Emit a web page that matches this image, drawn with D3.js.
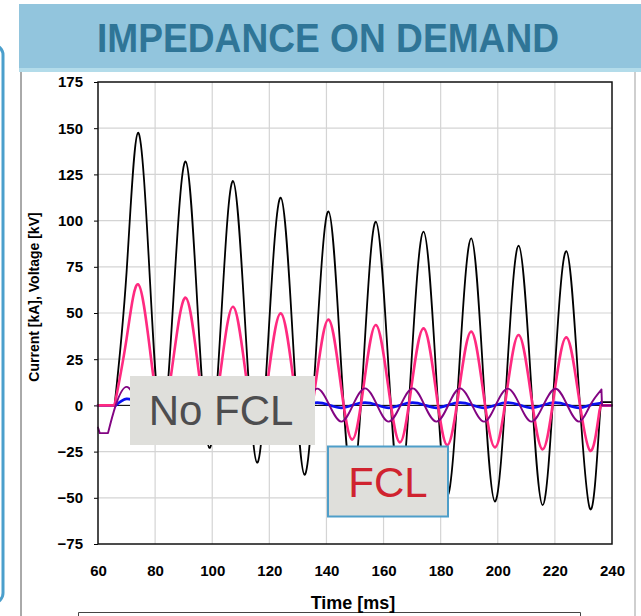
<!DOCTYPE html>
<html>
<head>
<meta charset="utf-8">
<script src="https://cdn.jsdelivr.net/npm/d3@7"></script>
<style>
body { margin: 0; background: #fff; }
svg { display: block; font-family: "Liberation Sans", Arial, sans-serif; }
</style>
</head>
<body>
<div id="chart"></div>
<script>
// axis ticks
const xTicks = [60, 80, 100, 120, 140, 160, 180, 200, 220, 240];
const yTicks = [-75, -50, -25, 0, 25, 50, 75, 100, 125, 150, 175];

// current samples: start, then mid / trough / mid / peak of every cycle
const tCurrent = [60, 65.8, 70, 74,
    78.2, 82.3, 86.5, 90.7,
    94.8, 99, 103.2, 107.3,
    111.5, 115.7, 119.8, 124,
    128.2, 132.3, 136.5, 140.7,
    144.8, 149, 153.2, 157.3,
    161.5, 165.7, 169.8, 174,
    178.2, 182.3, 186.5, 190.7,
    194.8, 199, 203.2, 207.3,
    211.5, 215.7, 219.8, 224,
    228.2, 232.3, 235.6, 236.1, 239.8];
const iNoFcl = [0, 0, 72, 147.5,
    67.5, -12, 60, 132,
    54.5, -23, 49, 121.4,
    45, -31, 40.5, 112.4,
    37, -37.5, 33, 105,
    31, -42, 28.5, 99.4,
    26.5, -46, 24, 94,
    22.5, -49, 20.5, 90.4,
    19, -52, 17, 86.4,
    16, -54, 14.5, 83.5,
    13.5, -56, -9, 1.8, 1.8];
const iFcl = [0, 0, 36, 65.5,
    30, -5, 26.5, 58.3,
    24, -10, 21.5, 53.4,
    19.8, -13.5, 17.8, 49.8,
    16.5, -16, 15, 46.4,
    13.8, -18.5, 12.5, 43.5,
    11.8, -20, 10.5, 41.7,
    9.8, -21.5, 9, 39.9,
    8.4, -22.7, 7.7, 38.1,
    7.1, -23.8, 6.6, 36.8,
    6.3, -24.5, -3, 0, 0];

// voltage across the limiter and the small branch current
const tVoltage = [60, 60.6, 63.5,
    66.2, 70,
    74.2, 78.5, 82.6, 86.8,
    91, 95.2, 99.3, 103.5,
    107.7, 111.8, 116, 120.2,
    124.3, 128.5, 132.7, 136.8,
    141, 145.2, 149.3, 153.5,
    157.7, 161.8, 166, 170.2,
    174.3, 178.5, 182.7, 186.8,
    191, 195.2, 199.3, 203.5,
    207.7, 211.8, 216, 220.2,
    224.3, 228.5, 232.4, 236.3,
    236.5, 239.8];
const uFcl = [-12, -15, -15,
    0, 10,
    0.3, -8.7, 0.2, 9.1,
    0.2, -8.7, 0.2, 9.1,
    0.2, -8.7, 0.2, 9.1,
    0.2, -8.7, 0.2, 9.1,
    0.2, -8.8, 0.2, 9.2,
    0.2, -8.8, 0.2, 9.2,
    0.2, -8.8, 0.2, 9.2,
    0.2, -8.8, 0.2, 9.1,
    0.2, -8.8, 0.2, 9.0,
    0.2, -8.8, 0.2, 8.6,
    0, 0];
const iBranch = [0, 0, 0,
    0, 3.5,
    1.2, -1.6, 0.3, 2.2,
    0.3, -1.4, 0.2, 1.8,
    0.2, -1.3, 0.2, 1.6,
    0.2, -1.3, 0.2, 1.5,
    0.2, -1.3, 0.2, 1.5,
    0.2, -1.3, 0.2, 1.5,
    0.2, -1.3, 0.2, 1.5,
    0.2, -1.3, 0.2, 1.5,
    0.2, -1.3, 0.2, 1.5,
    0.2, -1.3, 0.2, 1.2,
    0, 0];

const W = 641, H = 616;
const svg = d3.select("#chart").append("svg")
    .attr("width", W)
    .attr("height", H);

// slide decoration around the chart
svg.append("rect")
    .attr("x", -200).attr("y", 45)
    .attr("width", 203).attr("height", 558)
    .attr("rx", 10)
    .attr("fill", "none")
    .attr("stroke", "#4b9fcc")
    .attr("stroke-width", 3);
svg.append("line")
    .attr("x1", 21).attr("x2", 21).attr("y1", 72).attr("y2", H)
    .attr("stroke", "#555").attr("stroke-width", 1);
svg.append("line")
    .attr("x1", 635).attr("x2", 635).attr("y1", 72).attr("y2", H)
    .attr("stroke", "#cfcfcf").attr("stroke-width", 2);
svg.append("path")
    .attr("d", "M78.5," + H + "V612.5H580.5V" + H)
    .attr("fill", "none")
    .attr("stroke", "#444").attr("stroke-width", 1);

// title banner
svg.append("rect")
    .attr("x", 19).attr("y", 4)
    .attr("width", W - 19).attr("height", 64)
    .attr("fill", "#92c5dd");
svg.append("rect")
    .attr("x", 19).attr("y", 68)
    .attr("width", W - 19).attr("height", 4)
    .attr("fill", "#b3dcea");
svg.append("text")
    .attr("x", 328).attr("y", 52)
    .attr("text-anchor", "middle")
    .attr("font-size", 40)
    .attr("font-weight", "bold")
    .attr("textLength", 462)
    .attr("lengthAdjust", "spacingAndGlyphs")
    .attr("fill", "#2f7597")
    .text("IMPEDANCE ON DEMAND");

// plot area
let plot = { left: 98, right: 612, top: 82, bottom: 544 };

let x = d3.scaleLinear()
    .domain([60, 240])
    .range([plot.left, plot.right]);

let y = d3.scaleLinear()
    .domain([-75, 175])
    .range([plot.bottom, plot.top]);

// grid lines
svg.append("g")
    .selectAll("line.gx")
    .data(xTicks.slice(1, -1))
    .join("line")
    .attr("x1", d => x(d)).attr("x2", d => x(d))
    .attr("y1", plot.top).attr("y2", plot.bottom)
    .attr("stroke", "#d4d4d4").attr("stroke-width", 1.2);
svg.append("g")
    .selectAll("line.gy")
    .data(yTicks.slice(1, -1))
    .join("line")
    .attr("x1", plot.left).attr("x2", plot.right)
    .attr("y1", d => y(d)).attr("y2", d => y(d))
    .attr("stroke", "#d4d4d4").attr("stroke-width", 1.2);

// zero line
svg.append("line")
    .attr("x1", plot.left).attr("x2", plot.right)
    .attr("y1", y(0)).attr("y2", y(0))
    .attr("stroke", "#000").attr("stroke-width", 1);

// draw x-axis
svg.append("g")
    .attr("transform", "translate(0," + plot.bottom + ")")
    .call(d3.axisBottom(x).tickValues(xTicks).tickSize(0).tickPadding(21))
    .call(g => g.select(".domain").remove())
    .selectAll("text")
    .attr("font-size", 15)
    .attr("font-weight", "bold")
    .attr("fill", "#000");

// draw y-axis
svg.append("g")
    .attr("transform", "translate(" + plot.left + ",0)")
    .call(d3.axisLeft(y).tickValues(yTicks).tickSize(4).tickPadding(11))
    .call(g => g.select(".domain").remove())
    .call(g => g.selectAll("line").attr("stroke", "#000"))
    .selectAll("text")
    .attr("font-size", 15)
    .attr("font-weight", "bold")
    .attr("fill", "#000");

svg.append("text")
    .attr("transform", "translate(39,297) rotate(-90)")
    .attr("text-anchor", "middle")
    .attr("font-size", 14)
    .attr("font-weight", "bold")
    .text("Current [kA], Voltage [kV]");

svg.append("text")
    .attr("x", 353).attr("y", 609)
    .attr("text-anchor", "middle")
    .attr("font-size", 18)
    .attr("font-weight", "bold")
    .text("Time [ms]");

// straight before the fault and after the interruption, smooth in between
function drawSeries(times, values, from, to, color, width) {
    let pts = times.map((t, i) => [t, values[i]]);
    let i0 = times.indexOf(from), i1 = times.indexOf(to);
    let lin = d3.line().x(d => x(d[0])).y(d => y(d[1]));
    let smooth = d3.line().x(d => x(d[0])).y(d => y(d[1])).curve(d3.curveNatural);
    let d = lin(pts.slice(0, i0 + 1)) + smooth(pts.slice(i0, i1 + 1)) + lin(pts.slice(i1));
    svg.append("path")
        .attr("d", d)
        .attr("fill", "none")
        .attr("stroke", color)
        .attr("stroke-width", width)
        .attr("stroke-linejoin", "round")
        .attr("stroke-linecap", "round");
}

drawSeries(tCurrent, iNoFcl, 65.8, 235.6, "#000", 1.8);
drawSeries(tVoltage, iBranch, 66.2, 236.3, "#0a10f0", 2.8);
drawSeries(tCurrent, iFcl, 65.8, 235.6, "#ff2a80", 2.6);
drawSeries(tVoltage, uFcl, 63.5, 236.3, "#820482", 1.9);

// plot border
svg.append("rect")
    .attr("x", plot.left).attr("y", plot.top)
    .attr("width", plot.right - plot.left)
    .attr("height", plot.bottom - plot.top)
    .attr("fill", "none")
    .attr("stroke", "#111")
    .attr("stroke-width", 1.5);

// labels over the traces
svg.append("rect")
    .attr("x", 130).attr("y", 376)
    .attr("width", 185).attr("height", 69)
    .attr("fill", "#dfdfdb");
svg.append("text")
    .attr("x", 221).attr("y", 425)
    .attr("text-anchor", "middle")
    .attr("font-size", 42)
    .attr("fill", "#4d4d4f")
    .text("No FCL");

svg.append("rect")
    .attr("x", 328).attr("y", 446.5)
    .attr("width", 120).attr("height", 70)
    .attr("fill", "#dfdfdb")
    .attr("stroke", "#4e9ec9")
    .attr("stroke-width", 2);
svg.append("text")
    .attr("x", 388).attr("y", 496.5)
    .attr("text-anchor", "middle")
    .attr("font-size", 42)
    .attr("fill", "#d0232f")
    .text("FCL");
</script>
</body>
</html>
